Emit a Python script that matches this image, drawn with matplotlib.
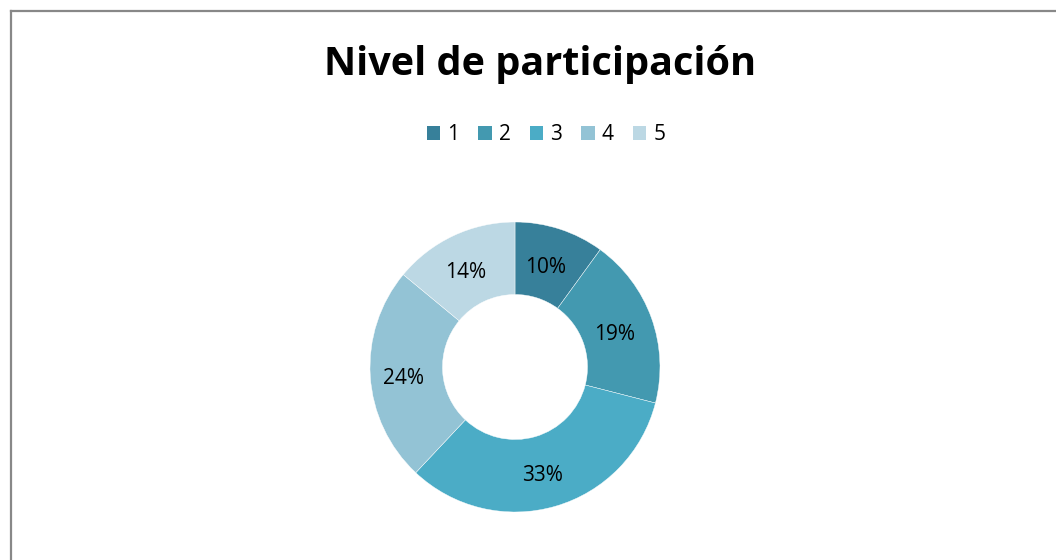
import matplotlib
matplotlib.use("Agg")
import matplotlib.pyplot as plt
from matplotlib.lines import Line2D
from matplotlib.patches import Patch

categories = ["1", "2", "3", "4", "5"]
values = [10, 19, 33, 24, 14]
colors = ["#37809a", "#4399b0", "#4bacc6", "#93c3d5", "#bcd8e4"]
title = "Nivel de participación"

plt.rcParams['font.family'] = ['Open Sans', 'DejaVu Sans']

W, H = 1056, 560
fig = plt.figure(figsize=(W / 100, H / 100), dpi=100)

# Border (left and top edges visible)
fig.add_artist(Line2D([11 / W, 11 / W], [0, 1 - 11 / H], color="#888888", lw=1.6,
                      transform=fig.transFigure))
fig.add_artist(Line2D([11 / W, 1], [1 - 11 / H, 1 - 11 / H], color="#888888", lw=1.6,
                      transform=fig.transFigure))

cx, cy, r = 515, 560 - 367, 145
ax = fig.add_axes([(cx - r) / W, (cy - r) / H, 2 * r / W, 2 * r / H])
wedges, texts, autotexts = ax.pie(
    values, colors=colors, startangle=90, counterclock=False, radius=1.0,
    wedgeprops=dict(width=0.5, edgecolor="white", linewidth=0.3),
    autopct=lambda p: f"{p:.0f}%", pctdistance=0.75,
    textprops=dict(fontsize=15, color="black"))
for t in autotexts:
    x, y = t.get_position()
    t.set_position((x - 0.02, y - 0.03))
ax.set_xlim(-1, 1)
ax.set_ylim(-1, 1)
ax.set_aspect("equal")
ax.axis("off")

fig.text(540 / W, 1 - 64 / H, title, ha="center", va="center",
         fontsize=28.5, fontweight="bold")

handles = [Patch(facecolor=c, edgecolor="none") for c in colors]
fig.legend(handles, categories, loc="center", bbox_to_anchor=(546 / W, 1 - 135 / H),
           ncol=5, frameon=False, fontsize=15, handlelength=0.65, handleheight=0.65,
           handletextpad=0.35, columnspacing=0.9)

fig.savefig("out.png", dpi=100)
